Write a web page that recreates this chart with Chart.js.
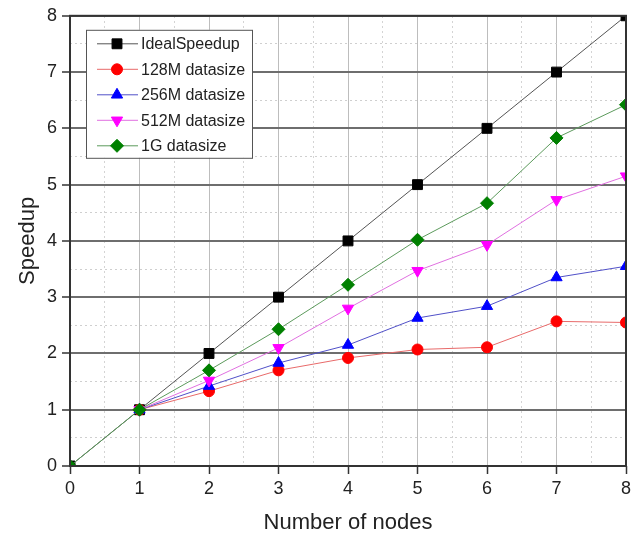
<!DOCTYPE html>
<html>
<head>
<meta charset="utf-8">
<script src="https://cdn.jsdelivr.net/npm/chart.js@4.4.0/dist/chart.umd.min.js"></script>
<style>
  html, body { margin: 0; padding: 0; background: #fff; }
  #wrap { width: 641px; height: 539px; }
</style>
</head>
<body>
<div id="wrap"><canvas id="speedup_chart" width="641" height="539"></canvas></div>
<script>
// values
const nodes = [0, 1, 2, 3, 4, 5, 6, 7, 8];
const nodesFrom1 = [1, 2, 3, 4, 5, 6, 7, 8];
const idealSpeedup = [0, 1, 2, 3, 4, 5, 6, 7, 8];
const speedup128M = [1, 1.33, 1.70, 1.92, 2.07, 2.11, 2.57, 2.55];
const speedup256M = [1, 1.42, 1.83, 2.15, 2.63, 2.84, 3.35, 3.55];
const speedup512M = [1, 1.52, 2.10, 2.80, 3.47, 3.93, 4.73, 5.15];
const speedup1G = [0, 1, 1.70, 2.43, 3.22, 4.02, 4.67, 5.83, 6.42];
const xTicks = [0, 1, 2, 3, 4, 5, 6, 7, 8];
const yTicks = [0, 1, 2, 3, 4, 5, 6, 7, 8];

const FONT = "'Liberation Sans', Arial, sans-serif";

function pts(xs, ys) {
  return ys.map((y, i) => ({x: xs[i], y: y}));
}

function series(label, xs, ys, line, fill, style, radius, rotation, order) {
  return {
    label: label,
    data: pts(xs, ys),
    borderColor: line,
    borderWidth: 1,
    backgroundColor: fill,
    pointBackgroundColor: fill,
    pointBorderColor: fill,
    pointBorderWidth: 1,
    pointStyle: style,
    pointRadius: radius,
    pointRotation: rotation,
    tension: 0,
    order: order
  };
}

const datasets = [
  series('IdealSpeedup', nodes, idealSpeedup, '#555555', '#000000', 'rect', 7, 0, 5),
  series('128M datasize', nodesFrom1, speedup128M, '#e86a6a', '#ff0000', 'circle', 5.5, 0, 4),
  series('256M datasize', nodesFrom1, speedup256M, '#5050c8', '#0000ff', 'triangle', 6.5, 0, 3),
  series('512M datasize', nodesFrom1, speedup512M, '#e070e0', '#ff00ff', 'triangle', 6.5, 180, 2),
  series('1G datasize', nodes, speedup1G, '#5c9a5c', '#008000', 'rectRot', 6.5, 0, 1)
];

const isInt = v => Math.abs(v - Math.round(v)) < 1e-6;

// frame round the plot + legend inside top-left
const framePlugin = {
  id: 'frame',
  afterDraw(chart) {
    const ctx = chart.ctx, a = chart.chartArea;
    ctx.save();
    ctx.strokeStyle = '#333';
    ctx.lineWidth = 2;
    ctx.strokeRect(a.left, a.top, a.right - a.left, a.bottom - a.top);

    // legend
    const bx = a.left + 16, by = a.top + 14, bw = 166, bh = 128, rowH = 25.5;
    ctx.fillStyle = '#fff';
    ctx.fillRect(bx, by, bw, bh);
    ctx.strokeStyle = '#555';
    ctx.lineWidth = 1;
    ctx.strokeRect(bx + 0.5, by + 0.5, bw, bh);
    ctx.font = '16px ' + FONT;
    ctx.textBaseline = 'middle';
    chart.data.datasets.forEach((ds, i) => {
      const cy = by + 14 + i * rowH;
      ctx.strokeStyle = ds.borderColor;
      ctx.lineWidth = 1;
      ctx.beginPath();
      ctx.moveTo(bx + 11, cy);
      ctx.lineTo(bx + 52, cy);
      ctx.stroke();
      ctx.fillStyle = ds.pointBackgroundColor;
      ctx.strokeStyle = ds.pointBorderColor;
      Chart.helpers.drawPoint(ctx, {
        pointStyle: ds.pointStyle,
        radius: ds.pointRadius,
        rotation: ds.pointRotation,
        borderWidth: 1
      }, bx + 31, cy);
      ctx.fillStyle = '#222';
      ctx.fillText(ds.label, bx + 55, cy + 1);
    });
    ctx.restore();
  }
};

const config = {
  type: 'line',
  data: {datasets: datasets},
  options: {
    responsive: false,
    animation: false,
    layout: {padding: {top: 15, right: 15, left: 0, bottom: 0}},
    plugins: {legend: {display: false}, tooltip: {enabled: false}},
    scales: {
      x: {
        type: 'linear',
        min: 0, max: 8,
        afterBuildTicks: s => { s.ticks = xTicks.map(v => ({value: v})); },
        afterFit: s => { s.height = 73; },
        ticks: {color: '#222', font: {size: 18, family: FONT}, padding: 4, autoSkip: false, maxRotation: 0},
        grid: {color: '#bdbdbd', lineWidth: 1, tickLength: 8, tickColor: '#333', tickWidth: 1.5},
        border: {display: false},
        title: {display: true, text: 'Number of nodes', color: '#222', font: {size: 22, family: FONT}, padding: {top: 0, bottom: 3}}
      },
      x2: {
        type: 'linear',
        position: 'top',
        min: 0, max: 8,
        ticks: {display: false, stepSize: 0.5},
        afterFit: s => { s.height = 0; },
        grid: {drawTicks: false, color: c => isInt(c.tick.value) ? 'rgba(0,0,0,0)' : '#d4d4d4', lineWidth: 1},
        border: {display: false, dash: [2, 3]}
      },
      y: {
        type: 'linear',
        min: 0, max: 8,
        afterBuildTicks: s => { s.ticks = yTicks.map(v => ({value: v})); },
        afterFit: s => { s.width = 70; },
        ticks: {color: '#222', font: {size: 18, family: FONT}, padding: 5},
        grid: {color: '#6e6e6e', lineWidth: 2, tickLength: 8, tickColor: '#333', tickWidth: 1.5},
        border: {display: false},
        title: {display: true, text: 'Speedup', color: '#222', font: {size: 22, family: FONT}, padding: {top: 15, bottom: 0}}
      },
      y2: {
        type: 'linear',
        position: 'right',
        min: 0, max: 8,
        ticks: {display: false, stepSize: 0.5},
        afterFit: s => { s.width = 0; },
        grid: {drawTicks: false, color: c => isInt(c.tick.value) ? 'rgba(0,0,0,0)' : '#cfcfcf', lineWidth: 1},
        border: {display: false, dash: [2, 3]}
      }
    }
  },
  plugins: [framePlugin]
};

let speedupChart = new Chart(document.getElementById('speedup_chart'), config);
</script>
</body>
</html>
